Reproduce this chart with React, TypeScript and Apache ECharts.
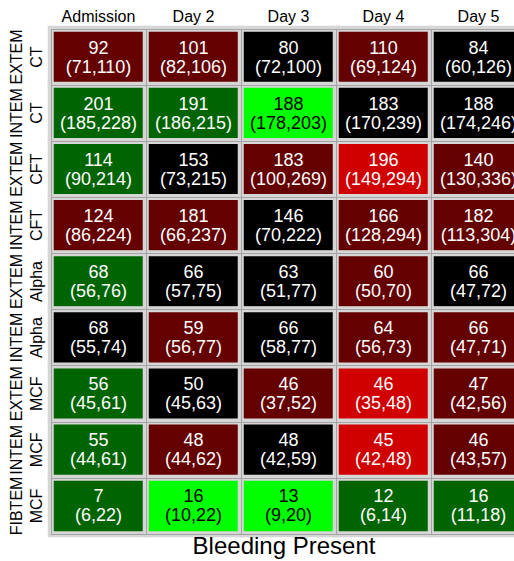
import React, { useEffect, useRef } from "react";
import * as echarts from "echarts";

// Columns (time points) and rows (assay / parameter)
const days = ["Admission", "Day 2", "Day 3", "Day 4", "Day 5"];
const rows = [
  "EXTEM\nCT",
  "INTEM\nCT",
  "EXTEM\nCFT",
  "INTEM\nCFT",
  "EXTEM\nAlpha",
  "INTEM\nAlpha",
  "EXTEM\nMCF",
  "INTEM\nMCF",
  "FIBTEM\nMCF",
];

// Median per row (one entry per day)
const medians = [
  [92, 101, 80, 110, 84],
  [201, 191, 188, 183, 188],
  [114, 153, 183, 196, 140],
  [124, 181, 146, 166, 182],
  [68, 66, 63, 60, 66],
  [68, 59, 66, 64, 66],
  [56, 50, 46, 46, 47],
  [55, 48, 48, 45, 46],
  [7, 16, 13, 12, 16],
];

// Lower quartile
const q1s = [
  [71, 82, 72, 69, 60],
  [185, 186, 178, 170, 174],
  [90, 73, 100, 149, 130],
  [86, 66, 70, 128, 113],
  [56, 57, 51, 50, 47],
  [55, 56, 58, 56, 47],
  [45, 45, 37, 35, 42],
  [44, 44, 42, 42, 43],
  [6, 10, 9, 6, 11],
];

// Upper quartile
const q3s = [
  [110, 106, 100, 124, 126],
  [228, 215, 203, 239, 246],
  [214, 215, 269, 294, 336],
  [224, 237, 222, 294, 304],
  [76, 75, 77, 70, 72],
  [74, 77, 77, 73, 71],
  [61, 63, 52, 48, 56],
  [61, 62, 59, 48, 57],
  [22, 22, 20, 14, 18],
];

// Direction/strength of difference: -2 strongly lower .. 2 strongly higher
const levels = [
  [1, 1, 0, 1, 0],
  [-1, -1, -2, 0, 0],
  [-1, 0, 1, 2, 1],
  [1, 1, 0, 1, 1],
  [-1, 0, 0, 1, 0],
  [0, 1, 0, 1, 1],
  [-1, 0, 1, 2, 1],
  [-1, 1, 0, 2, 1],
  [-1, -2, -2, -1, -1],
];

const levelColors: Record<string, string> = {
  "-2": "#00ff00",
  "-1": "#006400",
  "0": "#000000",
  "1": "#640000",
  "2": "#d00000",
};

const FONT = "Liberation Sans, Arial, Helvetica, sans-serif";

export default function App() {
  const ref = useRef<HTMLDivElement>(null);

  useEffect(() => {
    if (!ref.current) return;
    const chart = echarts.init(ref.current, undefined, { renderer: "svg" });

    const data: any[] = [];
    rows.forEach((_, r) => {
      days.forEach((_, c) => {
        const lvl = levels[r][c];
        data.push({
          value: [c, r, lvl, medians[r][c], q1s[r][c], q3s[r][c]],
          label: { color: lvl === -2 ? "#000000" : "#ffffff" },
        });
      });
    });

    chart.setOption({
      animation: false,
      backgroundColor: "#ffffff",
      textStyle: { fontFamily: FONT },
      title: {
        text: "Bleeding Present",
        left: 279,
        top: 528,
        textAlign: "center",
        textStyle: {
          fontFamily: FONT,
          fontSize: 24,
          fontWeight: "normal",
          color: "#000000",
        },
      },
      grid: {
        left: 51,
        top: 29,
        right: -12,
        bottom: 27,
        containLabel: false,
        outerBoundsMode: "none",
      },
      xAxis: {
        type: "category",
        position: "top",
        data: days,
        z: 5,
        axisLine: { show: false },
        axisTick: { show: false },
        axisLabel: {
          interval: 0,
          hideOverlap: false,
          color: "#000000",
          fontSize: 16,
          fontFamily: FONT,
          margin: 5,
        },
        splitLine: { show: true, lineStyle: { color: "#a4a4a4", width: 1 } },
      },
      yAxis: {
        type: "category",
        data: rows,
        inverse: true,
        z: 5,
        axisLine: { show: false },
        axisTick: { show: false },
        axisLabel: {
          interval: 0,
          hideOverlap: false,
          rotate: 90,
          color: "#000000",
          fontSize: 16,
          lineHeight: 20,
          fontFamily: FONT,
          margin: 5,
          align: "center",
          verticalAlign: "bottom",
        },
        splitLine: { show: true, lineStyle: { color: "#a4a4a4", width: 1 } },
      },
      visualMap: {
        show: false,
        type: "piecewise",
        dimension: 2,
        pieces: Object.keys(levelColors).map((k) => ({
          value: Number(k),
          color: levelColors[k],
        })),
      },
      series: [
        {
          type: "heatmap",
          data,
          itemStyle: { borderColor: "#d6d6d6", borderWidth: 6 },
          label: {
            show: true,
            fontSize: 18,
            lineHeight: 19,
            fontFamily: FONT,
            formatter: (p: any) => `${p.value[3]}\n(${p.value[4]},${p.value[5]})`,
          },
          emphasis: { disabled: true },
        },
      ],
    });

    return () => chart.dispose();
  }, []);

  return (
    <div
      ref={ref}
      style={{ position: "absolute", left: 0, top: 0, width: 514, height: 561 }}
    />
  );
}
